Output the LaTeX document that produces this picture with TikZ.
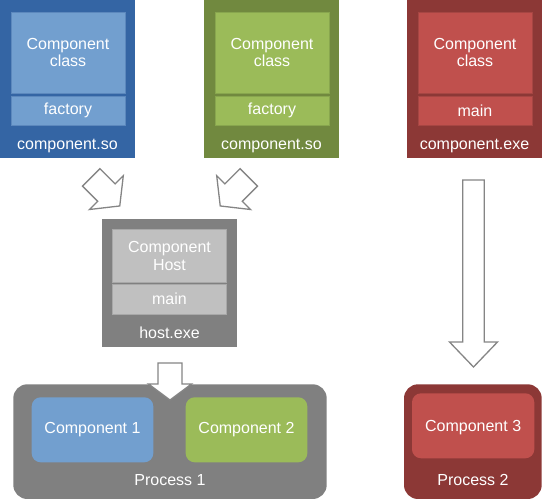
\documentclass[tikz,border=0pt]{standalone}
\usepackage{fontspec}
\setmainfont{Liberation Sans}
\definecolor{blueO}{HTML}{3465A4}
\definecolor{blueI}{HTML}{729FCF}
\definecolor{blueB}{HTML}{5C88BD}
\definecolor{greenO}{HTML}{71893F}
\definecolor{greenI}{HTML}{9BBB59}
\definecolor{greenB}{HTML}{88A64E}
\definecolor{redO}{HTML}{8C3836}
\definecolor{redI}{HTML}{C0504D}
\definecolor{redB}{HTML}{A64643}
\definecolor{grayO}{HTML}{808080}
\definecolor{grayI}{HTML}{C0C0C0}
\definecolor{grayB}{HTML}{A8A8A8}
\definecolor{arrowgray}{HTML}{858585}
\tikzset{pics/blockarr/.style n args={4}{code={
  \draw[barrow] (0,{-#2/2}) -- ({#1-#4},{-#2/2}) -- ({#1-#4},{-#3/2}) -- (#1,0)
    -- ({#1-#4},{#3/2}) -- ({#1-#4},{#2/2}) -- (0,{#2/2}) -- cycle;}}}
\begin{document}
\begin{tikzpicture}[x=1pt,y=-1pt,
  every node/.style={inner sep=0pt, outer sep=0pt, font=\fontsize{16}{17.5}\selectfont, text=white},
  box/.style={rectangle, anchor=north west, align=center},
  lbl/.style={anchor=base},
  barrow/.style={draw=arrowgray, fill=white, line width=1.3pt, line join=miter}]
\useasboundingbox (0,0) rectangle (542,500);
% blue component.so
\node[box, fill=blueO, minimum width=135pt, minimum height=158pt] (so1) at (0,0) {};
\node[box, fill=blueI, draw=blueB, line width=0.8pt, minimum width=114pt, minimum height=81pt] (cls1) at (11,12) {Component\\class};
\node[box, fill=blueI, draw=blueB, line width=0.8pt, minimum width=114pt, minimum height=29.5pt] (fac1) at (11,96) {factory};
\node[lbl] (so1l) at (67.5,150) {component.so};
% green component.so
\node[box, fill=greenO, minimum width=135pt, minimum height=158pt] (so2) at (204,0) {};
\node[box, fill=greenI, draw=greenB, line width=0.8pt, minimum width=114pt, minimum height=81pt] (cls2) at (215,12) {Component\\class};
\node[box, fill=greenI, draw=greenB, line width=0.8pt, minimum width=114pt, minimum height=29.5pt] (fac2) at (215,96) {factory};
\node[lbl] (so2l) at (271.5,150) {component.so};
% red component.exe
\node[box, fill=redO, minimum width=135pt, minimum height=158pt] (exe) at (407,0) {};
\node[box, fill=redI, draw=redB, line width=0.8pt, minimum width=114pt, minimum height=81pt] (cls3) at (418,12) {Component\\class};
\node[box, fill=redI, draw=redB, line width=0.8pt, minimum width=114pt, minimum height=29.5pt] (main3) at (418,96) {main};
\node[lbl] (exel) at (474.5,150) {component.exe};
% host.exe
\node[box, fill=grayO, minimum width=135pt, minimum height=128pt] (host) at (102,219) {};
\node[box, fill=grayI, draw=grayB, line width=0.8pt, minimum width=114pt, minimum height=53.4pt] (hcls) at (112.5,229.3) {Component\\Host};
\node[box, fill=grayI, draw=grayB, line width=0.8pt, minimum width=114pt, minimum height=30pt] (hmain) at (112.5,284) {main};
\node[lbl] (hostl) at (169.5,339) {host.exe};
% Process 1
\node[box, fill=grayO, rounded corners=14pt, minimum width=313.4pt, minimum height=114.7pt] (p1) at (13.3,384.3) {};
\node[box, fill=blueI, rounded corners=9pt, minimum width=121.6pt, minimum height=65pt] (c1) at (31.7,397.3) {Component 1};
\node[box, fill=greenI, rounded corners=9pt, minimum width=121.6pt, minimum height=65pt] (c2) at (185.7,397.3) {Component 2};
\node[lbl] (p1l) at (170,485.7) {Process 1};
% Process 2
\node[box, fill=redO, rounded corners=14pt, minimum width=137.7pt, minimum height=114.7pt] (p2) at (404,384.3) {};
\node[box, fill=redI, rounded corners=9pt, minimum width=122.3pt, minimum height=65pt, text depth=0pt] (c3) at (412,393.3) {Component 3};
\node[lbl] (p2l) at (473,485.7) {Process 2};
% block arrows
\pic[rotate=-45] at (91.2,177.4) {blockarr={40.4}{24.7}{47.8}{18.9}};
\pic[rotate=-135] at (248.8,177.4) {blockarr={40.4}{24.7}{47.8}{18.9}};
\pic[rotate=-90] at (170,363) {blockarr={37}{24}{43}{16}};
\pic[rotate=-90] at (473.5,180) {blockarr={187}{21.6}{48}{25}};
\end{tikzpicture}
\end{document}
